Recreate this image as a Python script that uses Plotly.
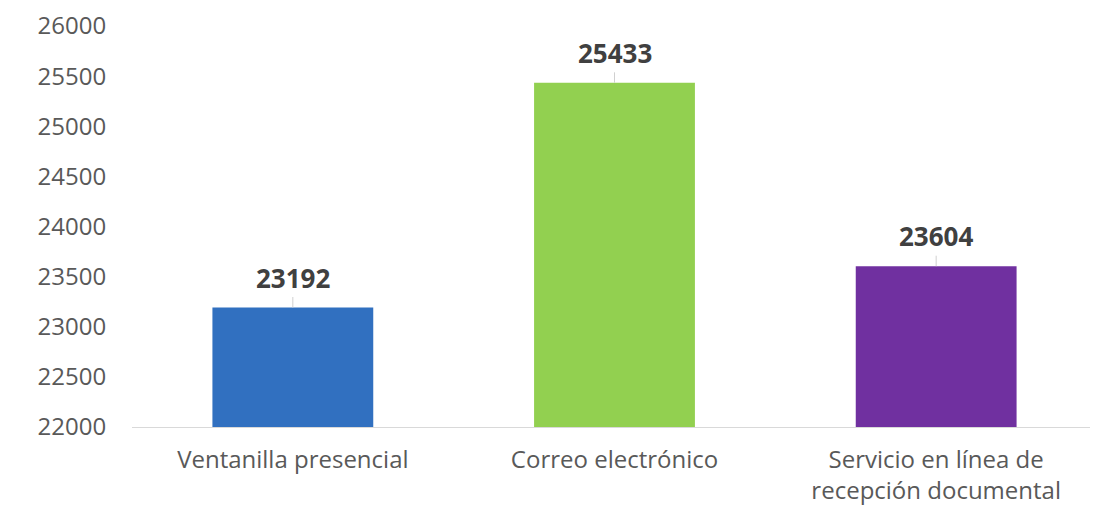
import plotly.graph_objects as go

categories = ["Ventanilla presencial", "Correo electrónico", "Servicio en línea de<br>recepción documental"]
values = [23192, 25433, 23604]
bar_colors = ["#3170C0", "#92D050", "#7030A0"]
y_ticks = [22000, 22500, 23000, 23500, 24000, 24500, 25000, 25500, 26000]

fig = go.Figure()

fig.add_trace(go.Bar(
    x=categories,
    y=values,
    marker=dict(color=bar_colors, line=dict(width=0)),
    width=0.5,
    showlegend=False,
    hoverinfo="x+y"
))

# value labels with a short leader line down to the bar
for cat, val in zip(categories, values):
    fig.add_annotation(
        x=cat, y=val,
        text=f"<b>{val}</b>",
        showarrow=True,
        arrowhead=0,
        arrowwidth=1,
        arrowcolor="#D0D0D0",
        ax=0, ay=-30,
        font=dict(family="Open Sans, sans-serif", size=26, color="#404040")
    )

# page body has an 8px margin, so the figure is sized to fit the window
fig.update_layout(
    width=1090,
    height=502,
    margin=dict(l=124, r=1, t=18, b=83),
    plot_bgcolor="white",
    paper_bgcolor="white",
    font=dict(family="Open Sans, sans-serif", color="#595959"),
    bargap=0.5,
    xaxis=dict(
        automargin=False,
        showline=True,
        linecolor="#D9D9D9",
        linewidth=1,
        ticks="outside",
        ticklen=11,
        tickcolor="rgba(0,0,0,0)",
        tickfont=dict(size=24, color="#595959"),
        showgrid=False
    ),
    yaxis=dict(
        automargin=False,
        range=[22000, 26000],
        tickvals=y_ticks,
        ticktext=[str(v) for v in y_ticks],
        ticklabeloverflow="allow",
        showgrid=False,
        zeroline=False,
        showline=False,
        ticks="outside",
        ticklen=20,
        tickcolor="rgba(0,0,0,0)",
        tickfont=dict(size=24, color="#595959")
    )
)

fig.write_html("out.html")
